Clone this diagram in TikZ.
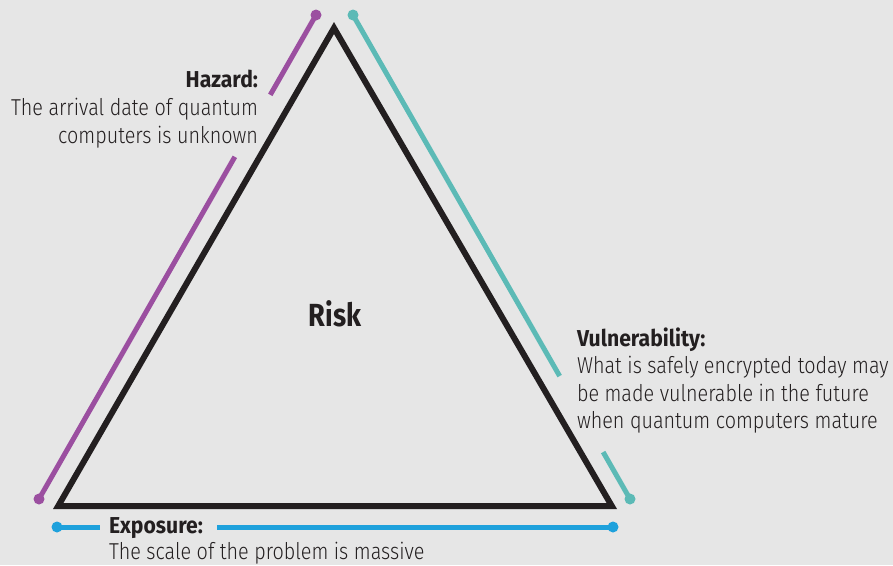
\documentclass[tikz,border=0pt]{standalone}
\usepackage{fontspec}
\setmainfont{Fira Sans}[UprightFont={* Light}, UprightFeatures={FakeStretch=0.86}, BoldFont={* Bold}, BoldFeatures={FakeStretch=0.92}]
\newfontfamily\riskfont{Fira Sans}[FakeStretch=0.85]
\usetikzlibrary{calc}
\definecolor{bgc}{RGB}{230,230,230}
\definecolor{trik}{RGB}{35,31,32}
\definecolor{hazc}{RGB}{155,79,160}
\definecolor{vulc}{RGB}{92,186,182}
\definecolor{expc}{RGB}{30,161,220}
\tikzset{
  tri/.style={draw=trik, line width=6pt, line join=miter},
  seg/.style={line width=5pt, line cap=butt},
  dotend/.style={circle, fill=#1, minimum size=11pt, inner sep=0pt},
  lbl/.style={inner sep=0pt, outer sep=0pt, text=trik, font=\fontsize{23}{28}\selectfont},
  lblb/.style={lbl, font=\fontsize{23}{28}\selectfont\bfseries},
}
\begin{document}
\begin{tikzpicture}[x=1pt,y=-1pt]
\fill[bgc] (0,0) rectangle (893,565);
\useasboundingbox (0,0) rectangle (893,565);
% triangle
\coordinate (A) at (334,28);
\coordinate (B) at (58.2,506);
\coordinate (C) at (611.8,506);
\draw[tri] (A) -- (B) -- (C) -- cycle;
% hazard (purple)
\node[dotend=hazc] (hzT) at (316,15) {};
\node[dotend=hazc] (hzB) at (39,499) {};
\coordinate (hz1) at ($(hzT.center)!0.165!(hzB.center)$);
\coordinate (hz2) at ($(hzT.center)!0.293!(hzB.center)$);
\draw[seg, hazc] (hzT.center) -- (hz1);
\draw[seg, hazc] (hz2) -- (hzB.center);
% vulnerability (teal)
\node[dotend=vulc] (vuT) at (353,15) {};
\node[dotend=vulc] (vuB) at (630,499) {};
\coordinate (vu1) at ($(vuT.center)!0.746!(vuB.center)$);
\coordinate (vu2) at ($(vuT.center)!0.903!(vuB.center)$);
\draw[seg, vulc] (vuT.center) -- (vu1);
\draw[seg, vulc] (vu2) -- (vuB.center);
% exposure (blue)
\node[dotend=expc] (exL) at (57,527) {};
\node[dotend=expc] (exR) at (613,527) {};
\coordinate (ex1) at (100,527);
\coordinate (ex2) at (217,527);
\draw[seg, expc] (exL.center) -- (ex1);
\draw[seg, expc] (ex2) -- (exR.center);
% labels
\node[lblb, anchor=base east] (hazT) at (258,87) {Hazard:};
\node[lbl, anchor=base east] (haz1) at (258,115) {The arrival date of quantum};
\node[lbl, anchor=base east] (haz2) at (258,143) {computers is unknown};
\node[inner sep=0pt, text=trik, font=\riskfont\fontsize{32}{36}\selectfont\bfseries, anchor=base] (risk) at (335,326) {Risk};
\node[lblb, anchor=base west] (vulT) at (577,346) {Vulnerability:};
\node[lbl, anchor=base west] (vul1) at (577,373) {What is safely encrypted today may};
\node[lbl, anchor=base west] (vul2) at (577,401) {be made vulnerable in the future};
\node[lbl, anchor=base west] (vul3) at (577,428) {when quantum computers mature};
\node[lblb, anchor=base west] (expT) at (109,533) {Exposure:};
\node[lbl, anchor=base west] (exp1) at (109,559) {The scale of the problem is massive};
\end{tikzpicture}
\end{document}
